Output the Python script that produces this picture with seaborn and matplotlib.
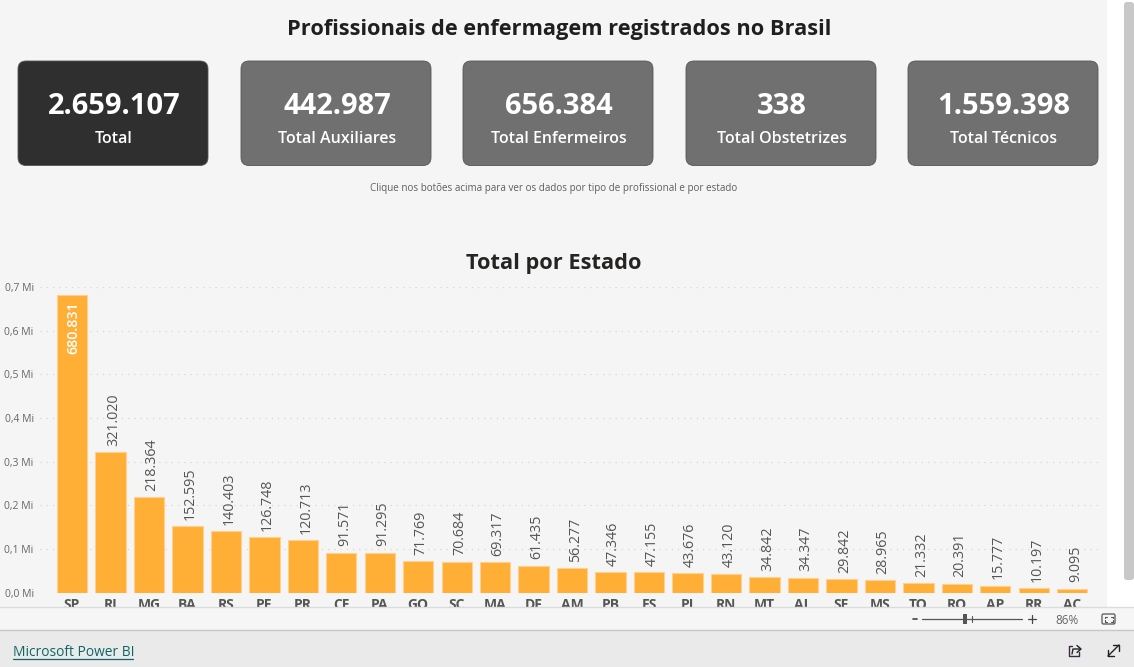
import pandas as pd
import matplotlib
matplotlib.use('Agg')
import matplotlib.pyplot as plt
import seaborn as sns
from matplotlib.patches import FancyBboxPatch, Rectangle

estados = ['SP', 'RJ', 'MG', 'BA', 'RS', 'PE', 'PR', 'CE', 'PA', 'GO', 'SC', 'MA', 'DF', 'AM',
           'PB', 'ES', 'PI', 'RN', 'MT', 'AL', 'SE', 'MS', 'TO', 'RO', 'AP', 'RR', 'AC']
totais = [680831, 321020, 218364, 152595, 140403, 126748, 120713, 91571, 91295, 71769, 70684,
          69317, 61435, 56277, 47346, 47155, 43676, 43120, 34842, 34347, 29842, 28965, 21332,
          20391, 15777, 10197, 9095]
y_ticks = [0, 100000, 200000, 300000, 400000, 500000, 600000, 700000]
y_tick_labels = ['0,0 Mi', '0,1 Mi', '0,2 Mi', '0,3 Mi', '0,4 Mi', '0,5 Mi', '0,6 Mi', '0,7 Mi']

card_valores = ['2.659.107', '442.987', '656.384', '338', '1.559.398']
card_nomes = ['Total', 'Total Auxiliares', 'Total Enfermeiros', 'Total Obstetrizes', 'Total Técnicos']
card_cores = ['#2f2f2f', '#707070', '#707070', '#707070', '#707070']
card_x = [18, 241, 463, 686, 908]

W, H = 1134, 667
sns.set_theme(style='white')
plt.rcParams['font.family'] = ['Open Sans', 'DejaVu Sans']

fig = plt.figure(figsize=(W / 100, H / 100), dpi=100, facecolor='#f5f5f5')

# chart area, placed in pixels
left, right, top, bottom = 40, 1103, 287, 592.5
ax = fig.add_axes([left / W, 1 - bottom / H, (right - left) / W, (bottom - top) / H])
ax.set_facecolor('none')

df = pd.DataFrame({'estado': estados, 'total': totais})
sns.barplot(data=df, x='estado', y='total', color='#ffae36', saturation=1, width=0.79,
            edgecolor='#ffd08f', linewidth=0.8, ax=ax, zorder=3)
ax.set_xlim(-0.832, 26.8)
ax.set_ylim(0, 700000)
ax.set_yticks(y_ticks, y_tick_labels)
ax.set_xlabel('')
ax.set_ylabel('')
ax.tick_params(axis='y', length=0, pad=4.5, labelsize=7.5, labelcolor='#666666')
ax.tick_params(axis='x', length=0, pad=4, labelsize=10, labelcolor='#555555')
for t in ax.get_xticklabels():
    t.set_fontweight('bold')
sns.despine(ax=ax, left=True, bottom=True, top=True, right=True)
ax.grid(axis='y', color='#d6d6d6', linestyle=(0, (1, 4)), linewidth=0.9, zorder=0)
ax.set_axisbelow(True)

rotulos = [f'{v:,}'.replace(',', '.') for v in totais]
textos = ax.bar_label(ax.containers[0], labels=rotulos, rotation=90, padding=4.5,
                      fontsize=10.3, color='#555555')
for t in textos:
    t.xyann = (2.2, t.xyann[1])
# SP does not fit above the bar, label goes inside in white
textos[0].set_color('white')
textos[0].set_va('top')
textos[0].set_fontweight('semibold')
textos[0].xyann = (1.0, -4)

# page furniture on top, in pixel coordinates
ov = fig.add_axes([0, 0, 1, 1], zorder=5)
ov.set_xlim(0, W)
ov.set_ylim(H, 0)
ov.axis('off')
ov.patch.set_alpha(0)

ov.add_patch(Rectangle((1107, 0), 27, 607, color='white', lw=0))
ov.add_patch(FancyBboxPatch((1124, 2), 10, 578, boxstyle='round,pad=0,rounding_size=3',
                            color='#c8c8c8', lw=0))
ov.add_patch(Rectangle((0, 607), W, 23, color='#f6f6f6', lw=0))
ov.add_patch(Rectangle((0, 630), W, 37, color='#eaeaea', lw=0))
ov.plot([0, W], [607, 607], color='#dcdcdc', lw=1)
ov.plot([0, W], [630, 630], color='#c8c8c8', lw=1)

ov.text(559, 29, 'Profissionais de enfermagem registrados no Brasil', ha='center', va='center',
        fontsize=15.65, fontweight='bold', color='#1f1f1f')
ov.text(553.5, 263, 'Total por Estado', ha='center', va='center', fontsize=15.7,
        fontweight='bold', color='#252423')
ov.text(553.5, 188, 'Clique nos botões acima para ver os dados por tipo de profissional e por estado',
        ha='center', va='center', fontsize=7.1, color='#605e5c')

for x, valor, nome, cor in zip(card_x, card_valores, card_nomes, card_cores):
    ov.add_patch(FancyBboxPatch((x, 61), 190, 104.5, boxstyle='round,pad=0,rounding_size=8',
                                facecolor=cor, edgecolor='#555555', lw=0.6))
    ov.text(x + 96, 106.5, valor, ha='center', va='center', fontsize=21, fontweight='bold', color='white')
    ov.text(x + 96, 139, nome, ha='center', va='center', fontsize=11.5, fontweight='semibold', color='white')

# zoom controls
ov.plot([922, 1022], [619, 619], color='#555555', lw=0.9)
ov.add_patch(Rectangle((963, 614), 4, 10, color='#555555', lw=0))
ov.plot([972, 972], [616, 622], color='#555555', lw=0.8)
ov.plot([913, 917], [619, 619], color='#444444', lw=1.2)
ov.plot([1028, 1036], [619, 619], color='#444444', lw=0.9)
ov.plot([1032, 1032], [615, 623], color='#444444', lw=0.9)
ov.text(1066.5, 620, '86%', ha='center', va='center', fontsize=8.5, color='#666666')
ov.add_patch(FancyBboxPatch((1102, 614), 13, 10, boxstyle='round,pad=0,rounding_size=1.5',
                            facecolor='none', edgecolor='#555555', lw=0.9))
ov.plot([1104.5, 1104.5, 1106.5], [618, 616.5, 616.5], color='#555555', lw=0.8)
ov.plot([1110.5, 1112.5, 1112.5], [616.5, 616.5, 618], color='#555555', lw=0.8)
ov.plot([1104.5, 1104.5, 1106.5], [620, 621.5, 621.5], color='#555555', lw=0.8)
ov.plot([1110.5, 1112.5, 1112.5], [621.5, 621.5, 620], color='#555555', lw=0.8)

# footer
ov.text(13, 652, 'Microsoft Power BI', ha='left', va='center', fontsize=9.9, color='#0f6466')
ov.plot([13, 133], [658.5, 658.5], color='#0f6466', lw=0.9)
# share icon
ov.plot([1072, 1069, 1069, 1079, 1079], [646, 646, 656, 656, 652], color='#3a2a4a', lw=1)
ov.plot([1072, 1073, 1080], [654, 649, 649], color='#222222', lw=1)
ov.plot([1077, 1081, 1077], [645.5, 649, 652.5], color='#222222', lw=1)
# expand icon
ov.plot([1108, 1119], [656, 645], color='#222222', lw=1)
ov.plot([1113, 1119, 1119], [645, 645, 651], color='#222222', lw=1)
ov.plot([1108, 1108, 1114], [650, 656, 656], color='#222222', lw=1)

fig.savefig('out.png', dpi=100, facecolor=fig.get_facecolor())
plt.close()
